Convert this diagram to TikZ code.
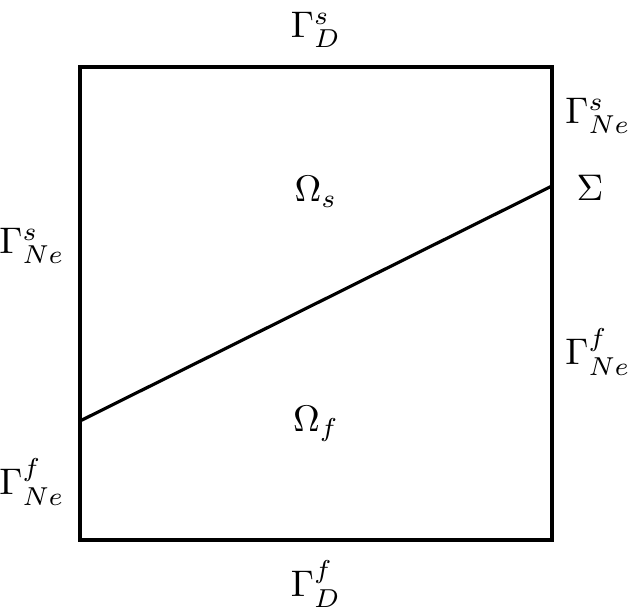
\documentclass[tikz,border=0pt]{standalone}
\begin{document}
\begin{tikzpicture}[x=0.27pt,y=-0.27pt,
  edge/.style={line width=0.85pt},
  lbl/.style={inner sep=0pt}]
\useasboundingbox (0,0) rectangle (630,614);
\coordinate (A) at (80,67);
\coordinate (B) at (552,67);
\coordinate (C) at (552,540);
\coordinate (D) at (80,540);
\coordinate (L) at (80,421);
\coordinate (R) at (552,186);
\draw[edge] (A) -- (B) -- (C) -- (D) -- cycle;
\draw[edge] (L) -- (R);
\node[lbl] (gDs) at (316,30) {$\Gamma_D^s$};
\node[lbl] (gDf) at (316,584) {$\Gamma_D^f$};
\node[lbl] (os) at (316,192) {$\Omega_s$};
\node[lbl] (of) at (316,424) {$\Omega_f$};
\node[lbl] (gNsl) at (32,246) {$\Gamma_{Ne}^s$};
\node[lbl] (gNfl) at (32,482) {$\Gamma_{Ne}^f$};
\node[lbl] (gNsr) at (598,116) {$\Gamma_{Ne}^s$};
\node[lbl] (sig) at (590,188) {$\Sigma$};
\node[lbl] (gNfr) at (598,352) {$\Gamma_{Ne}^f$};
\end{tikzpicture}
\end{document}
